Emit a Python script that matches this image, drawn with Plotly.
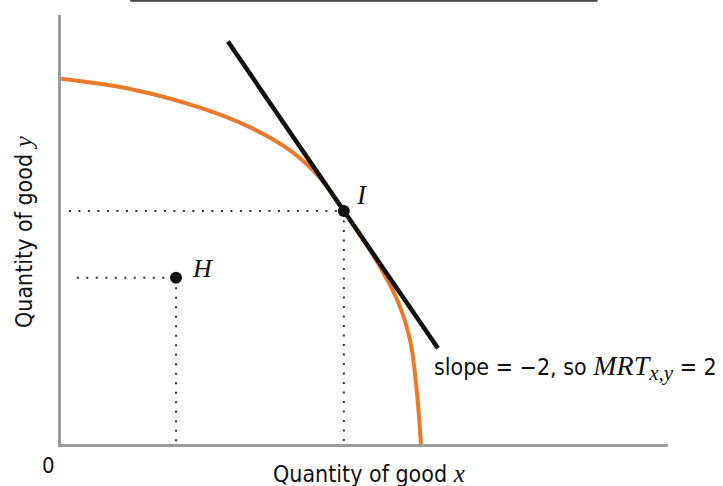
import plotly.graph_objects as go

# Production possibilities frontier
ppf_x = [0.0, 1.14, 2.29, 3.11, 3.77, 4.27, 4.66, 4.96, 5.26, 5.54, 5.75, 5.86, 5.93]
ppf_y = [8.24, 8.01, 7.59, 7.15, 6.63, 6.00, 5.26, 4.65, 3.99, 3.25, 2.35, 1.22, 0.0]

# Points
point_I = (4.66, 5.26)
point_H = (1.895, 3.75)

# Tangent line at I with slope -2
tangent_slope = -2
tangent_x = [2.75, 6.21]
tangent_y = [point_I[1] + tangent_slope * (x - point_I[0]) for x in tangent_x]

guide_start_I = 0.13
guide_start_H = 0.26

X_RANGE = [0, 10.0]
Y_RANGE = [0, 9.68]

ORANGE = "#EA7A2B"
SANS = "Liberation Sans Narrow, DejaVu Sans Condensed, Roboto Condensed, Liberation Sans, sans-serif"
SERIF = "Liberation Serif, DejaVu Serif, serif"

fig = go.Figure()

dot_line = dict(color="#333333", width=2, dash="2px,7.5px")

# dotted guides
for (px, py), xs in [(point_I, guide_start_I), (point_H, guide_start_H)]:
    fig.add_trace(go.Scatter(x=[xs, px], y=[py, py], mode="lines", line=dot_line,
                             hoverinfo="skip", showlegend=False))
    fig.add_trace(go.Scatter(x=[px, px], y=[py, 0], mode="lines", line=dot_line,
                             hoverinfo="skip", showlegend=False))

# PPF curve
fig.add_trace(go.Scatter(x=ppf_x, y=ppf_y, mode="lines",
                         line=dict(color=ORANGE, width=4, shape="spline", smoothing=1.0),
                         hoverinfo="skip", showlegend=False))

# tangent
fig.add_trace(go.Scatter(x=tangent_x, y=tangent_y, mode="lines",
                         line=dict(color="#111111", width=4.5),
                         hoverinfo="skip", showlegend=False))

# points
fig.add_trace(go.Scatter(x=[point_I[0], point_H[0]], y=[point_I[1], point_H[1]], mode="markers",
                         marker=dict(color="#111111", size=12),
                         hoverinfo="skip", showlegend=False))

annotations = [
    dict(x=point_I[0] + 0.30, y=point_I[1] + 0.36, xref="x", yref="y", text="<i>I</i>",
         showarrow=False, font=dict(family=SERIF, size=27, color="#111111"),
         xanchor="center", yanchor="middle"),
    dict(x=point_H[0] + 0.43, y=point_H[1] + 0.20, xref="x", yref="y", text="<i>H</i>",
         showarrow=False, font=dict(family=SERIF, size=26, color="#111111"),
         xanchor="center", yanchor="middle"),
    dict(x=6.12, y=1.72, xref="x", yref="y",
         text=("slope = \u22122, so "
               "<span style='font-family:Liberation Serif, serif;font-size:28px'><i>MRT</i></span>"
               "<sub><span style='font-family:Liberation Serif, serif;font-size:21px'><i>x,y</i></span></sub>"
               " = 2"),
         showarrow=False, font=dict(family=SANS, size=23, color="#111111"),
         xanchor="left", yanchor="middle"),
    dict(x=0.508, y=-0.068, xref="paper", yref="paper",
         text="Quantity of good <span style='font-family:Liberation Serif, serif;font-size:25px'><i>x</i></span>",
         showarrow=False, font=dict(family=SANS, size=23, color="#111111"),
         xanchor="center", yanchor="middle"),
    dict(x=-0.062, y=0.495, xref="paper", yref="paper", textangle=-90,
         text="Quantity of good <span style='font-family:Liberation Serif, serif;font-size:25px'><i>y</i></span>",
         showarrow=False, font=dict(family=SANS, size=23, color="#111111"),
         xanchor="center", yanchor="middle"),
    dict(x=-0.021, y=-0.049, xref="paper", yref="paper", text="0",
         showarrow=False, font=dict(family=SANS, size=22, color="#111111"),
         xanchor="center", yanchor="middle"),
]

fig.update_layout(
    width=723, height=486,
    margin=dict(l=61, r=55, t=15, b=42),
    paper_bgcolor="white", plot_bgcolor="white",
    xaxis=dict(range=X_RANGE, showgrid=False, zeroline=False, showticklabels=False,
               ticks="", showline=True, linecolor="#9b9b9b", linewidth=3, fixedrange=True),
    yaxis=dict(range=Y_RANGE, showgrid=False, zeroline=False, showticklabels=False,
               ticks="", showline=True, linecolor="#9b9b9b", linewidth=3, fixedrange=True),
    annotations=annotations,
    shapes=[dict(type="line", xref="paper", yref="paper", x0=0.114, x1=0.884,
                 y0=1.033, y1=1.033, line=dict(color="#444444", width=2))],
    showlegend=False,
)

fig.write_html("out.html",
               config={"displayModeBar": False, "staticPlot": True},
               post_script="document.body.style.margin='0';document.body.style.padding='0';")
